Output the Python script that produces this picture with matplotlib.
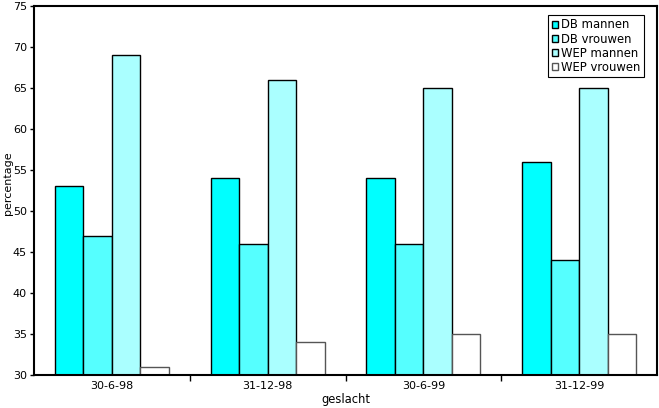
import numpy as np
import matplotlib.pyplot as plt

plt.rcParams['font.family'] = ['DejaVu Sans']

# data
datums = ['30-6-98', '31-12-98', '30-6-99', '31-12-99']
series = ['DB mannen', 'DB vrouwen', 'WEP mannen', 'WEP vrouwen']
db_mannen = [53, 54, 54, 56]
db_vrouwen = [47, 46, 46, 44]
wep_mannen = [69, 66, 65, 65]
wep_vrouwen = [31, 34, 35, 35]
kleuren = ['#00FFFF', '#55FFFF', '#AAFFFF', '#FFFFFF']

fig = plt.figure(figsize=(6.59, 4.08), dpi=100)
ax = fig.add_axes([34/659, 33/408, 623/659, 369/408])

x = np.arange(len(datums))
w = 0.183
waarden = [db_mannen, db_vrouwen, wep_mannen, wep_vrouwen]
for i, (naam, v) in enumerate(zip(series, waarden)):
    ec = '#000000' if i < 3 else '#555555'
    ax.bar(x + (i - 1.5) * w, np.array(v) - 30, bottom=30, width=w,
           color=kleuren[i], edgecolor=ec, linewidth=1, label=naam)

ax.set_xlim(-0.5, 3.5)
ax.set_ylim(30, 75)
ax.set_yticks(np.arange(30, 76, 5))
ax.set_xticks(x)
ax.set_xticklabels(datums)
ax.set_xticks(np.arange(0.5, 3.5, 1), minor=True)
ax.tick_params(axis='x', which='major', length=0, labelsize=8, pad=4)
ax.tick_params(axis='x', which='minor', length=4, width=1, direction='out')
ax.tick_params(axis='y', length=3, width=1, labelsize=8, pad=2)
for s in ax.spines.values():
    s.set_linewidth(1.5)

ax.set_ylabel('percentage', fontsize=8)
ax.yaxis.set_label_coords(-0.034, 0.52)
ax.set_xlabel('geslacht', fontsize=8.3, labelpad=2)

leg = ax.legend(loc='upper right', bbox_to_anchor=(0.979, 0.976),
                prop={'size': 8.4},
                frameon=True, fancybox=False, edgecolor='black', framealpha=1,
                handlelength=0.5, handleheight=0.5, handletextpad=0.3,
                borderpad=0.3, labelspacing=0.1, borderaxespad=0)
leg.get_frame().set_linewidth(0.8)

plt.savefig('out.png', dpi=100)
